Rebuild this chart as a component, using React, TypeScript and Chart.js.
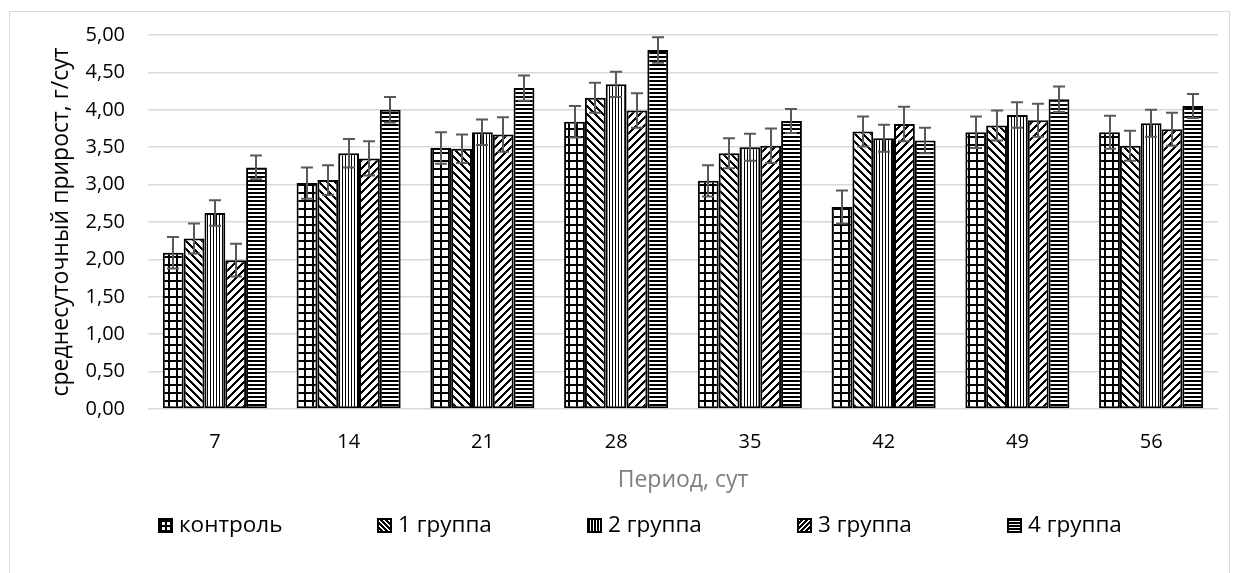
import React, { useEffect, useRef } from "react";
import { Chart, registerables } from "chart.js";

Chart.register(...registerables);

const categories = ["7", "14", "21", "28", "35", "42", "49", "56"];
const seriesNames = ["контроль", "1 группа", "2 группа", "3 группа", "4 группа"];

const kontrol = [2.09, 3.02, 3.49, 3.84, 3.05, 2.70, 3.70, 3.70];
const group1 = [2.28, 3.06, 3.48, 4.16, 3.42, 3.71, 3.79, 3.52];
const group2 = [2.62, 3.42, 3.70, 4.34, 3.50, 3.62, 3.93, 3.82];
const group3 = [1.99, 3.35, 3.67, 3.99, 3.52, 3.81, 3.86, 3.74];
const group4 = [3.23, 4.00, 4.29, 4.80, 3.85, 3.59, 4.14, 4.05];

const errKontrol = [0.21, 0.21, 0.21, 0.21, 0.21, 0.22, 0.21, 0.22];
const errGroup1 = [0.20, 0.20, 0.19, 0.20, 0.20, 0.20, 0.20, 0.20];
const errGroup2 = [0.17, 0.19, 0.17, 0.17, 0.18, 0.18, 0.17, 0.18];
const errGroup3 = [0.22, 0.23, 0.23, 0.23, 0.23, 0.23, 0.22, 0.22];
const errGroup4 = [0.16, 0.17, 0.17, 0.17, 0.16, 0.17, 0.17, 0.16];

const yTicks = [0, 0.5, 1, 1.5, 2, 2.5, 3, 3.5, 4, 4.5, 5];

const yTitle = "среднесуточный прирост, г/сут";
const xTitle = "Период, сут";

const FONT = "'Open Sans', sans-serif";

type PatternKind = "grid" | "down" | "vert" | "up" | "horiz";
const patternKinds: PatternKind[] = ["grid", "down", "vert", "up", "horiz"];

function makeTile(kind: PatternKind, small: boolean): HTMLCanvasElement {
  const c = document.createElement("canvas");
  const n = small ? 5 : 8;
  let w = n, h = n;
  if (kind === "vert") { w = 3; h = 3; }
  if (kind === "horiz") { w = small ? 3 : 4; h = small ? 3 : 4; }
  c.width = w; c.height = h;
  const g = c.getContext("2d")!;
  g.fillStyle = "#ffffff";
  g.fillRect(0, 0, w, h);
  g.fillStyle = "#000000";
  if (kind === "grid") {
    g.fillRect(0, 0, n, 2);
    g.fillRect(0, 0, 2, n);
  } else if (kind === "vert") {
    g.fillRect(0, 0, small ? 2 : 1, 3);
  } else if (kind === "horiz") {
    g.fillRect(0, 0, w, 2);
  } else {
    const band = small ? 3 : 3;
    for (let x = 0; x < n; x++) {
      for (let y = 0; y < n; y++) {
        const v = kind === "down" ? (((x - y) % n) + n) % n : (x + y) % n;
        if (v < band) g.fillRect(x, y, 1, 1);
      }
    }
  }
  return c;
}

export default function App() {
  const ref = useRef<HTMLCanvasElement | null>(null);

  useEffect(() => {
    const canvas = ref.current;
    if (!canvas) return;
    const ctx = canvas.getContext("2d")!;
    const patterns = patternKinds.map((k) => ctx.createPattern(makeTile(k, false), "repeat")!);
    const legendPatterns = patternKinds.map((k) => ctx.createPattern(makeTile(k, true), "repeat")!);

    const values = [kontrol, group1, group2, group3, group4];
    const errors = [errKontrol, errGroup1, errGroup2, errGroup3, errGroup4];

    const frame = {
      id: "frame",
      beforeDraw(chart: any) {
        const c = chart.ctx;
        c.save();
        c.fillStyle = "#ffffff";
        c.fillRect(0, 0, chart.width, chart.height);
        c.strokeStyle = "#d9d9d9";
        c.lineWidth = 1;
        c.strokeRect(9.5, 11.5, 1220, 620);
        c.restore();
      },
    };

    const errorBars = {
      id: "errorBars",
      afterDatasetsDraw(chart: any) {
        const c = chart.ctx;
        const yScale = chart.scales.y;
        c.save();
        c.strokeStyle = "#595959";
        c.lineWidth = 2;
        chart.data.datasets.forEach((ds: any, di: number) => {
          const meta = chart.getDatasetMeta(di);
          meta.data.forEach((bar: any, i: number) => {
            const v = ds.data[i];
            const e = errors[di][i];
            const x = Math.round(bar.x);
            const yTop = yScale.getPixelForValue(v + e);
            const yBot = yScale.getPixelForValue(v - e);
            c.beginPath();
            c.moveTo(x, yTop);
            c.lineTo(x, yBot);
            c.moveTo(x - 6, yTop);
            c.lineTo(x + 6, yTop);
            c.moveTo(x - 6, yBot);
            c.lineTo(x + 6, yBot);
            c.stroke();
          });
        });
        c.restore();
      },
    };

    const legend = {
      id: "customLegend",
      afterDraw(chart: any) {
        const c = chart.ctx;
        c.save();
        c.font = `22.5px ${FONT}`;
        const box = 15;
        const gapBoxText = 6;
        const gapItems = 95;
        const widths = seriesNames.map((n) => box + gapBoxText + c.measureText(n).width);
        const total = widths.reduce((a, b) => a + b, 0) + gapItems * (widths.length - 1);
        let x = Math.round(640 - total / 2);
        const yc = 525;
        seriesNames.forEach((name, i) => {
          const bx = Math.round(x);
          c.fillStyle = legendPatterns[i];
          c.fillRect(bx, yc - 7, box, box);
          c.strokeStyle = "#000";
          c.lineWidth = 2;
          c.strokeRect(bx + 1, yc - 7 + 1, box - 2, box - 2);
          c.fillStyle = "#000";
          c.textBaseline = "middle";
          c.textAlign = "left";
          c.fillText(name, bx + box + gapBoxText, yc + 1);
          x += widths[i] + gapItems;
        });
        c.restore();
      },
    };

    const chart = new Chart(ctx, {
      type: "bar",
      data: {
        labels: categories,
        datasets: seriesNames.map((name, i) => ({
          label: name,
          data: values[i],
          backgroundColor: patterns[i],
          borderColor: "#000000",
          borderWidth: 2,
          borderSkipped: false,
          categoryPercentage: 0.778,
          barPercentage: 1.0,
        })),
      },
      options: {
        responsive: false,
        animation: false,
        events: [],
        layout: { padding: { top: 35, left: 0, right: 20, bottom: 0 } },
        plugins: {
          legend: { display: false },
          tooltip: { enabled: false },
          title: { display: false },
        },
        scales: {
          x: {
            grid: { display: false },
            border: { display: false },
            ticks: { color: "#000", font: { family: FONT, size: 20 }, padding: 13 },
            title: {
              display: true,
              text: xTitle,
              color: "#7f7f7f",
              font: { family: FONT, size: 23 },
              padding: { top: 0, bottom: 79 },
            },
            afterFit(scale: any) {
              scale.height = 164;
            },
          },
          y: {
            min: 0,
            max: 5,
            afterBuildTicks(scale: any) {
              scale.ticks = yTicks.map((v) => ({ value: v }));
            },
            grid: { color: "#d9d9d9", lineWidth: 1.5, drawTicks: false },
            border: { display: false },
            ticks: {
              color: "#000",
              font: { family: FONT, size: 20 },
              padding: 23,
              callback: (v: any) => Number(v).toFixed(2).replace(".", ","),
            },
            title: {
              display: true,
              text: yTitle,
              color: "#000",
              font: { family: FONT, size: 23 },
              padding: { top: 48, bottom: 0 },
            },
            afterFit(scale: any) {
              scale.width = 148;
            },
          },
        },
      },
      plugins: [frame, errorBars, legend],
    });

    return () => chart.destroy();
  }, []);

  return (
    <div style={{ position: "absolute", left: 0, top: 0, width: 1238, height: 573 }}>
      <canvas ref={ref} width={1238} height={573} style={{ display: "block" }} />
    </div>
  );
}
